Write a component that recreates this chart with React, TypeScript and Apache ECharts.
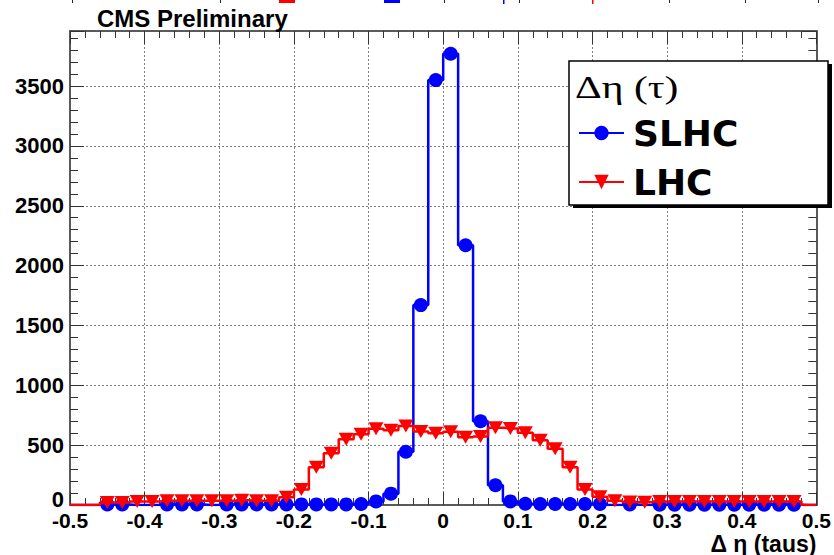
import React, { useEffect, useRef } from "react";
import * as echarts from "echarts";

// Histogram bins (width 0.02 from -0.5 to 0.5), centre of each bin
const binCenters = [
  -0.49, -0.47, -0.45, -0.43, -0.41, -0.39, -0.37, -0.35, -0.33, -0.31,
  -0.29, -0.27, -0.25, -0.23, -0.21, -0.19, -0.17, -0.15, -0.13, -0.11,
  -0.09, -0.07, -0.05, -0.03, -0.01, 0.01, 0.03, 0.05, 0.07, 0.09,
  0.11, 0.13, 0.15, 0.17, 0.19, 0.21, 0.23, 0.25, 0.27, 0.29,
  0.31, 0.33, 0.35, 0.37, 0.39, 0.41, 0.43, 0.45, 0.47, 0.49,
];

const slhcValues = [
  0, 0, 5, 5, 0, 0, 5, 5, 5, 0,
  5, 5, 5, 5, 5, 5, 5, 5, 5, 8,
  30, 95, 445, 1670, 3550, 3770, 2170, 700, 165, 30,
  10, 8, 8, 8, 8, 8, 0, 5, 0, 3,
  3, 3, 3, 3, 3, 3, 3, 3, 3, 0,
];

const lhcValues = [
  0, 0, 20, 20, 30, 30, 35, 35, 35, 35,
  35, 40, 35, 35, 65, 130, 315, 432, 550, 592,
  637, 625, 660, 614, 600, 612, 566, 573, 645, 640,
  604, 540, 470, 315, 130, 68, 35, 25, 22, 30,
  30, 30, 30, 30, 30, 30, 30, 30, 30, 0,
];

const xMin = -0.5;
const xMax = 0.5;
const xStep = 0.1;
const yMin = 0;
const yMax = 3960;
const yStep = 500;

const seriesNames = ["SLHC", "LHC"];
const legendTitle = "Δη (τ)";
const chartTitle = "CMS Preliminary";
const xAxisTitle = "Δ η (taus)";

const SANS = '"Liberation Sans", Arial, Helvetica, sans-serif';

function histData(values: number[]) {
  const pts: any[] = [{ value: [xMin, 0], symbol: "none" }];
  binCenters.forEach((x, i) => {
    const v = values[i];
    if (v > 0) pts.push({ value: [x, v] });
    else pts.push({ value: [x, v], symbol: "none" });
  });
  pts.push({ value: [xMax, 0], symbol: "none" });
  return pts;
}

export default function App() {
  const ref = useRef<HTMLDivElement>(null);

  useEffect(() => {
    if (!ref.current) return;
    const chart = echarts.init(ref.current, undefined, { renderer: "svg" });

    const frameLine = { show: true, onZero: false, lineStyle: { color: "#5a5a5a", width: 2 } };
    const tickStyle = { color: "#333", width: 1 };

    const option: any = {
      animation: false,
      backgroundColor: "#ffffff",
      title: {
        text: chartTitle,
        left: 97,
        top: 6,
        padding: 0,
        textStyle: { fontFamily: SANS, fontWeight: "bold", fontSize: 24, color: "#000" },
      },
      legend: {
        data: seriesNames,
        orient: "vertical",
        left: 578,
        top: 113,
        padding: 0,
        itemWidth: 45,
        itemHeight: 18,
        itemGap: 9,
        selectedMode: false,
        z: 20,
        textStyle: {
          fontFamily: '"DejaVu Sans", sans-serif',
          fontWeight: "bold",
          fontSize: 36,
          color: "#000",
          lineHeight: 40,
          padding: [0, 0, 0, 4],
        },
      },
      grid: { left: 70, right: 16, top: 31, bottom: 48, containLabel: false },
      xAxis: [
        {
          type: "value",
          min: xMin,
          max: xMax,
          interval: xStep,
          position: "bottom",
          axisLine: frameLine,
          axisTick: { show: true, inside: true, length: 13, lineStyle: tickStyle },
          minorTick: { show: true, splitNumber: 5, length: 7, lineStyle: tickStyle },
          splitLine: { show: true, lineStyle: { color: "#808080", width: 1, type: [2, 2] } },
          axisLabel: {
            margin: 5,
            fontFamily: SANS,
            fontWeight: "bold",
            fontSize: 21,
            color: "#000",
          },
          name: xAxisTitle,
          nameLocation: "end",
          nameGap: 0,
          nameTextStyle: {
            fontFamily: SANS,
            fontWeight: "bold",
            fontSize: 23,
            color: "#000",
            align: "right",
            verticalAlign: "top",
            padding: [27, 0, 0, 0],
          },
        },
        {
          type: "value",
          min: xMin,
          max: xMax,
          interval: xStep,
          position: "top",
          axisLine: frameLine,
          axisTick: { show: true, inside: true, length: 13, lineStyle: tickStyle },
          minorTick: { show: true, splitNumber: 5, length: 7, lineStyle: tickStyle },
          splitLine: { show: false },
          axisLabel: { show: false },
        },
      ],
      yAxis: [
        {
          type: "value",
          min: yMin,
          max: yMax,
          interval: yStep,
          position: "left",
          axisLine: frameLine,
          axisTick: { show: true, inside: true, length: 14, lineStyle: tickStyle },
          minorTick: { show: true, splitNumber: 5, length: 8, lineStyle: tickStyle },
          splitLine: { show: true, lineStyle: { color: "#808080", width: 1, type: [2, 2] } },
          axisLabel: {
            margin: 6,
            showMaxLabel: false,
            fontFamily: SANS,
            fontWeight: "bold",
            fontSize: 22,
            color: "#000",
            formatter: (v: number) => (v === 0 ? "{z|0}" : String(v)),
            rich: {
              z: {
                fontFamily: SANS,
                fontWeight: "bold",
                fontSize: 22,
                color: "#000",
                padding: [0, 0, 12, 0],
              },
            },
          },
        },
        {
          type: "value",
          min: yMin,
          max: yMax,
          interval: yStep,
          position: "right",
          axisLine: frameLine,
          axisTick: { show: true, inside: true, length: 14, lineStyle: tickStyle },
          minorTick: { show: true, splitNumber: 5, length: 8, lineStyle: tickStyle },
          splitLine: { show: false },
          axisLabel: { show: false },
        },
      ],
      graphic: [
        // fragments of the neighbouring figure, cut at the top edge
        { type: "rect", shape: { x: 279, y: 0, width: 16, height: 3 }, style: { fill: "#ff0000" } },
        { type: "rect", shape: { x: 384, y: 0, width: 16, height: 3 }, style: { fill: "#0000ff" } },
        { type: "rect", shape: { x: 503, y: 0, width: 1.5, height: 4 }, style: { fill: "#0000ff" } },
        { type: "rect", shape: { x: 592, y: 0, width: 1.5, height: 4 }, style: { fill: "#ff0000" } },
        ...[72, 220, 444, 519, 669, 745, 818].map((x) => ({
          type: "rect",
          shape: { x, y: 0, width: 1, height: 3 },
          style: { fill: "#222" },
        })),
        // legend box with shadow
        {
          type: "rect",
          z: 15,
          shape: { x: 573, y: 64, width: 259, height: 144 },
          style: { fill: "#000" },
        },
        {
          type: "rect",
          z: 16,
          shape: { x: 569, y: 61, width: 259, height: 144 },
          style: { fill: "#fff", stroke: "#000", lineWidth: 1.5 },
        },
        {
          type: "text",
          z: 17,
          x: 575,
          y: 87,
          scaleX: 1.3,
          style: {
            text: legendTitle,
            fontFamily: '"Liberation Serif", "Times New Roman", serif',
            fontSize: 32,
            fill: "#000",
            verticalAlign: "middle",
          },
        },
      ],
      series: [
        {
          name: seriesNames[0],
          type: "line",
          step: "middle",
          xAxisIndex: 0,
          yAxisIndex: 0,
          data: histData(slhcValues),
          symbol: "circle",
          symbolSize: 14,
          showSymbol: true,
          showAllSymbol: true,
          lineStyle: { color: "#0000ff", width: 2.5 },
          itemStyle: { color: "#0000ff" },
          z: 3,
        },
        {
          name: seriesNames[1],
          type: "line",
          step: "middle",
          xAxisIndex: 0,
          yAxisIndex: 0,
          data: histData(lhcValues),
          symbol: "triangle",
          symbolRotate: 180,
          symbolSize: [15, 13],
          showSymbol: true,
          showAllSymbol: true,
          lineStyle: { color: "#ff0000", width: 2.5 },
          itemStyle: { color: "#ff0000" },
          z: 4,
        },
      ],
    };

    chart.setOption(option);
    return () => chart.dispose();
  }, []);

  return (
    <div
      ref={ref}
      style={{ position: "fixed", left: 0, top: 0, width: 834, height: 555, background: "#fff" }}
    />
  );
}
